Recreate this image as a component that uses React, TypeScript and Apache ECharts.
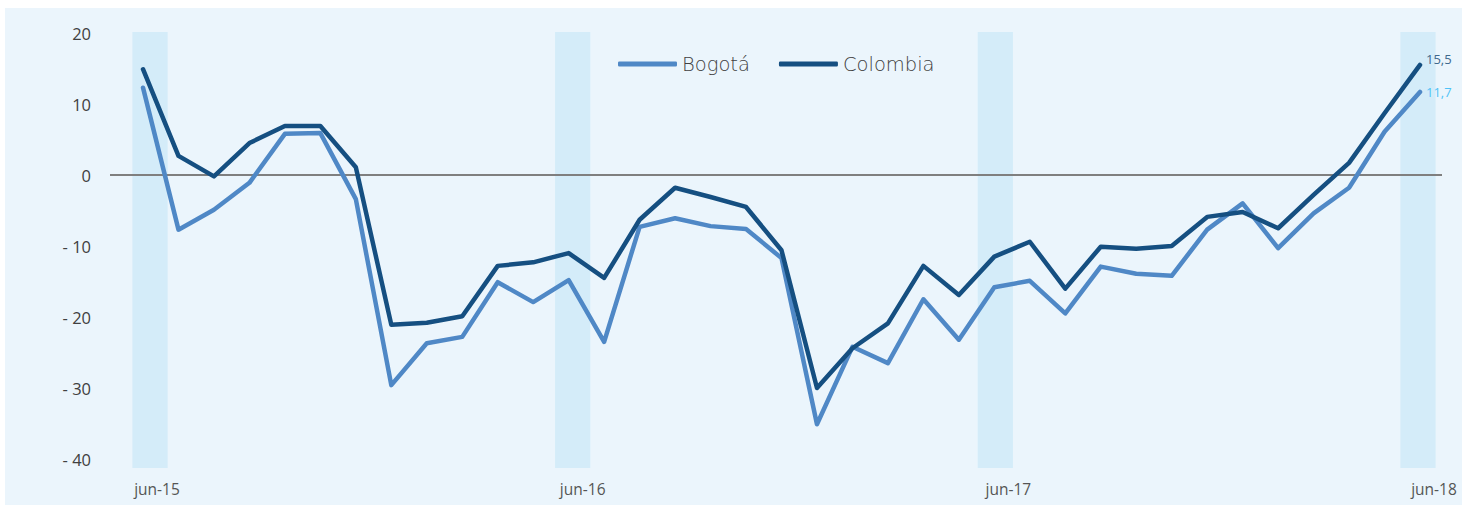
import React, { useEffect, useRef } from "react";
import * as echarts from "echarts";

const months = ["jun", "jul", "ago", "sep", "oct", "nov", "dic", "ene", "feb", "mar", "abr", "may"];
const categories: string[] = [];
for (let i = 0; i < 37; i++) {
  const m = months[i % 12];
  const yr = 15 + Math.floor((i + 5) / 12);
  categories.push(`${m}-${yr}`);
}

const bogota = [
  12.3, -7.7, -4.9, -1.1, 5.8, 5.9, -3.4, -29.6, -23.7, -22.8, -15.1, -17.9, -14.8,
  -23.5, -7.3, -6.1, -7.2, -7.6, -11.7, -35.1, -24.2, -26.5, -17.5, -23.2, -15.8,
  -14.9, -19.5, -12.9, -13.9, -14.2, -7.7, -4.0, -10.3, -5.4, -1.8, 6.1, 11.7,
];
const colombia = [
  14.9, 2.7, -0.2, 4.5, 6.9, 6.9, 1.1, -21.1, -20.8, -19.9, -12.8, -12.3, -11.0,
  -14.5, -6.3, -1.8, -3.1, -4.5, -10.6, -30.0, -24.4, -20.9, -12.8, -16.9, -11.5,
  -9.4, -16.0, -10.1, -10.4, -10.0, -5.9, -5.2, -7.5, -2.8, 1.7, 8.7, 15.5,
];
const yTicks = { min: -40, max: 20, interval: 10 };

const FONT = "Open Sans";
const LEGEND_FONT = "DejaVu Sans";

function endLabel(color: string, offsetY: number) {
  return {
    show: true,
    distance: 6,
    offset: [0, offsetY],
    color,
    fontSize: 13,
    fontFamily: FONT,
    formatter: (p: any) => Number(p.value).toFixed(1).replace(".", ","),
  };
}

export default function App() {
  const ref = useRef<HTMLDivElement>(null);
  useEffect(() => {
    if (!ref.current) return;
    const chart = echarts.init(ref.current, undefined, { renderer: "svg" });
    const bands = categories.map((c) => (c.startsWith("jun") ? 1 : "-"));
    chart.setOption({
      animation: false,
      textStyle: { fontFamily: FONT },
      grid: [
        { left: 143, right: 42, top: 33, bottom: 47 },
        { left: 132.4, right: 26.4, top: 32, bottom: 38 },
      ],
      legend: {
        data: ["Bogotá", "Colombia"],
        left: 613,
        top: 49,
        icon: "roundRect",
        itemWidth: 59,
        itemHeight: 5,
        itemGap: 29,
        textStyle: { fontSize: 19.5, color: "#404040", fontFamily: LEGEND_FONT, fontWeight: 300 },
      },
      xAxis: [
        {
          type: "category",
          gridIndex: 0,
          data: categories,
          boundaryGap: false,
          axisLine: { show: false },
          axisTick: { show: false },
          axisLabel: {
            interval: 11,
            color: "#555",
            fontSize: 15.5,
            margin: 22,
            padding: [0, 0, 0, 28],
            fontFamily: FONT,
          },
        },
        {
          type: "category",
          gridIndex: 1,
          data: categories,
          boundaryGap: true,
          show: false,
        },
      ],
      yAxis: [
        {
          type: "value",
          gridIndex: 0,
          min: yTicks.min,
          max: yTicks.max,
          interval: yTicks.interval,
          axisLine: { show: false },
          axisTick: { show: false },
          splitLine: { show: false },
          axisLabel: {
            margin: 52,
            color: "#404040",
            fontSize: 16.5,
            fontFamily: FONT,
            formatter: (v: number) => (v < 0 ? `- ${Math.abs(v)}` : `${v}`),
          },
        },
        { type: "value", gridIndex: 1, min: 0, max: 1, show: false },
      ],
      series: [
        {
          type: "bar",
          xAxisIndex: 1,
          yAxisIndex: 1,
          data: bands,
          barWidth: "100%",
          itemStyle: { color: "#D4ECF9" },
          silent: true,
          z: 1,
        },
        {
          name: "Bogotá",
          type: "line",
          data: bogota,
          symbol: "none",
          lineStyle: { color: "#4F88C6", width: 4.5, cap: "round", join: "round" },
          itemStyle: { color: "#4F88C6" },
          endLabel: endLabel("#4FC3F7", 0),
          z: 3,
        },
        {
          name: "Colombia",
          type: "line",
          data: colombia,
          symbol: "none",
          lineStyle: { color: "#154F81", width: 4.5, cap: "round", join: "round" },
          itemStyle: { color: "#154F81" },
          endLabel: endLabel("#3F6A8E", -6),
          z: 4,
        },
      ],
    });
    const y0 = chart.convertToPixel({ yAxisIndex: 0 }, 0) as number;
    chart.setOption({
      graphic: [
        {
          type: "rect",
          z: 0,
          silent: true,
          shape: { x: 5, y: 8, width: 1457, height: 497 },
          style: { fill: "#EBF5FC" },
        },
        {
          type: "line",
          z: 2,
          silent: true,
          shape: { x1: 110, y1: y0, x2: 1442, y2: y0 },
          style: { stroke: "#7F7F7F", lineWidth: 2 },
        },
      ],
    });
    return () => chart.dispose();
  }, []);
  return (
    <div
      ref={ref}
      style={{ position: "absolute", left: 0, top: 0, width: 1462, height: 506 }}
    />
  );
}
